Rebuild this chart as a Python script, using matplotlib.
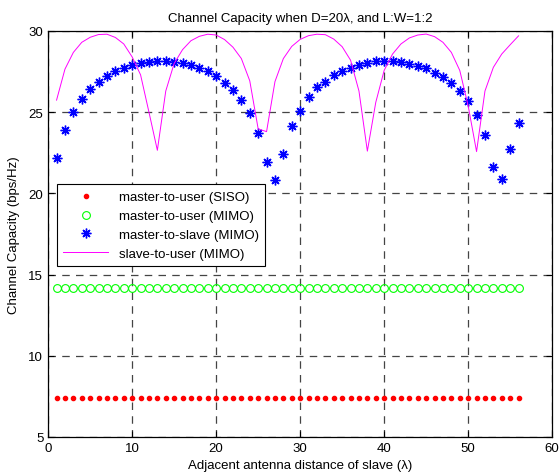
import numpy as np
import matplotlib
matplotlib.use('Agg')
import matplotlib.pyplot as plt
from matplotlib import rcParams

rcParams['font.family'] = ['Liberation Sans', 'DejaVu Sans']
rcParams['xtick.direction'] = 'in'
rcParams['ytick.direction'] = 'in'
rcParams['xtick.top'] = True
rcParams['ytick.right'] = True

# distance of adjacent antennas (lambda)
dist = np.arange(1, 57)

siso_user = [7.39] * 56
mimo_user = [14.16] * 56

mimo_slave = [22.16, 23.9, 25.02, 25.78, 26.44, 26.87, 27.2, 27.51, 27.72, 27.92,
              28.02, 28.1, 28.15, 28.15, 28.1, 28.0, 27.88, 27.72, 27.51, 27.2,
              26.81, 26.38, 25.72, 24.92, 23.7, 21.91, 20.8, 22.4, 24.12, 25.08,
              25.94, 26.52, 26.87, 27.28, 27.51, 27.74, 27.88, 28.0, 28.13, 28.17,
              28.15, 28.07, 27.98, 27.86, 27.72, 27.43, 27.14, 26.77, 26.32, 25.66,
              24.81, 23.6, 21.63, 20.9, 22.72, 24.32]

slave_user = [25.74, 27.65, 28.68, 29.3, 29.61, 29.78, 29.8, 29.6, 29.2, 28.4,
              27.3, 25.0, 22.65, 26.3, 28.0, 28.85, 29.4, 29.67, 29.8, 29.75,
              29.47, 29.0, 28.3, 26.93, 23.97, 23.8, 26.88, 28.3, 29.05, 29.48,
              29.71, 29.8, 29.77, 29.5, 29.03, 28.2, 26.3, 22.6, 25.6, 27.57,
              28.58, 29.2, 29.57, 29.75, 29.81, 29.65, 29.3, 28.68, 27.57, 25.39,
              22.57, 26.3, 27.76, 28.58, 29.15, 29.7]

fs = 9.5

fig = plt.figure(figsize=(5.6, 4.77), dpi=100)
ax = fig.add_axes([0.086, 0.082, 0.9, 0.851])

ax.plot(dist, siso_user, '.', color='red', markersize=6, label='master-to-user (SISO)')
ax.plot(dist, mimo_user, 'o', color='#00ff00', markerfacecolor='none', markersize=5.6,
        markeredgewidth=0.8, label='master-to-user (MIMO)')
ax.plot(dist, mimo_slave, linestyle='none', marker=(8, 2, 0), color='blue',
        markersize=7, markeredgewidth=1.0, label='master-to-slave (MIMO)')
ax.plot(dist, slave_user, '-', color='magenta', linewidth=0.7, label='slave-to-user (MIMO)')

ax.set_xlim(0, 60)
ax.set_ylim(5, 30)
ax.set_xticks(range(0, 61, 10))
ax.set_yticks(range(5, 31, 5))
ax.grid(True, color='#444444', linestyle=(0, (6, 5)), linewidth=0.9)
ax.tick_params(labelsize=fs, length=4, width=0.8)
for s in ax.spines.values():
    s.set_linewidth(0.9)

ax.set_title('Channel Capacity when D=20λ, and L:W=1:2', fontsize=fs, pad=7)
ax.set_xlabel('Adjacent antenna distance of slave (λ)', fontsize=fs, labelpad=4)
ax.set_ylabel('Channel Capacity (bps/Hz)', fontsize=fs, labelpad=6)

leg = ax.legend(loc='lower left', bbox_to_anchor=(0.017, 0.42), fontsize=fs,
                fancybox=False, framealpha=1, edgecolor='black', borderpad=0.5,
                labelspacing=0.5, handlelength=3.4, borderaxespad=0)
leg.get_frame().set_linewidth(0.8)

plt.savefig('out.png', dpi=100)
